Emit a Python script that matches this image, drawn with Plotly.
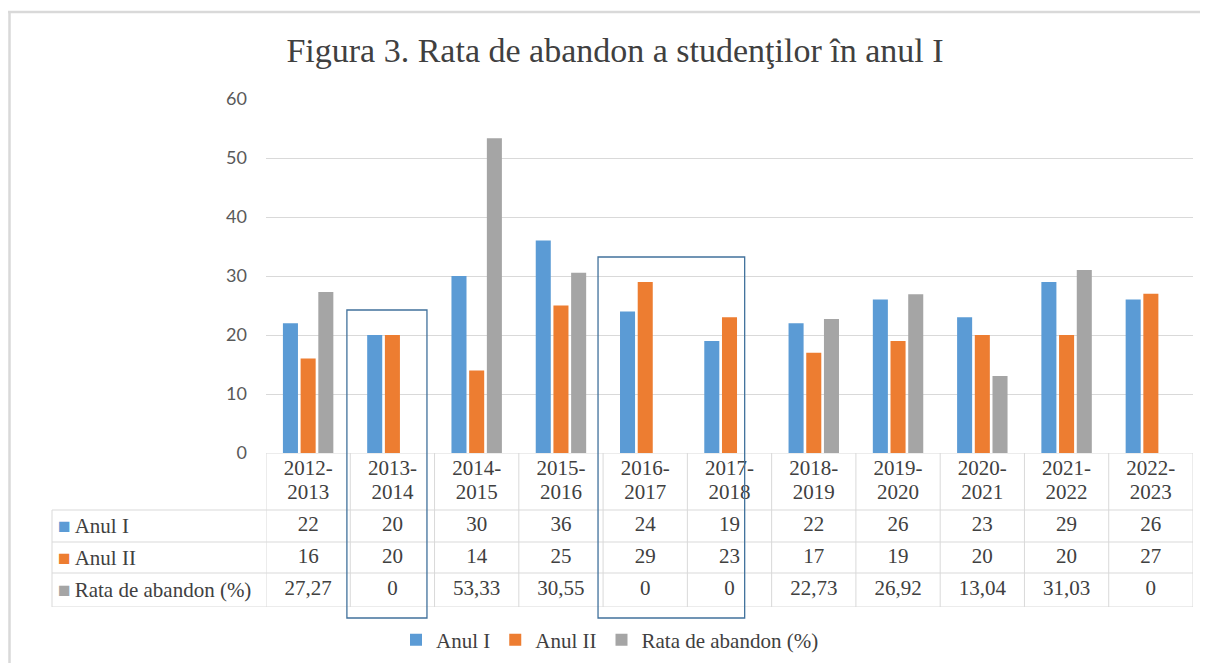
import plotly.graph_objects as go

# ---------------- data ----------------
categories = ["2012-2013", "2013-2014", "2014-2015", "2015-2016", "2016-2017", "2017-2018",
              "2018-2019", "2019-2020", "2020-2021", "2021-2022", "2022-2023"]
anul_1 = [22, 20, 30, 36, 24, 19, 22, 26, 23, 29, 26]
anul_2 = [16, 20, 14, 25, 29, 23, 17, 19, 20, 20, 27]
rata = [27.27, 0, 53.33, 30.55, 0, 0, 22.73, 26.92, 13.04, 31.03, 0]
series_names = ["Anul I", "Anul II", "Rata de abandon (%)"]
y_ticks = [0, 10, 20, 30, 40, 50, 60]

# ---------------- style ----------------
FONT = "Liberation Serif, Times New Roman, serif"
TICKFONT = "Lato, Carlito, Calibri, sans-serif"
TXT = "#404040"
GRID = "#D9D9D9"
COLORS = ["#5B9BD5", "#ED7D31", "#A5A5A5"]
BOX = "#41719C"

# the page body has an 8px margin; figure placed at (8,8)
OFF = 8
W, H = 1208 - OFF, 663 - OFF
# plot area in page pixels: left 266, right 1193, top 99, bottom 607
L, R, T, B = 266 - OFF, 1208 - 1193, 99 - OFF, 663 - 607
PW, PH = W - L - R, H - T - B
ROW_EDGES = [0, 34, 65, 97, 154]   # table row boundaries, px above table bottom
TABLE_H = ROW_EDGES[-1]
split = TABLE_H / PH


def pxp(px):
    """page x pixel -> paper x"""
    return (px - OFF - L) / PW


def py(px):
    """page y pixel -> paper y"""
    return (H - B - (px - OFF)) / PH


def fmt(v):
    if v == 0:
        return "0"
    if float(v).is_integer():
        return str(int(v))
    return f"{v:.2f}".replace(".", ",")


fig = go.Figure()
series = [anul_1, anul_2, rata]
for name, vals, col in zip(series_names, series, COLORS):
    fig.add_trace(go.Bar(x=categories, y=vals, name=name, marker_color=col,
                         marker_line_width=0, xaxis="x", yaxis="y"))

cell_font = dict(family=FONT, size=21, color=TXT)
row_centers = [(ROW_EDGES[i] + ROW_EDGES[i + 1]) / 2 for i in range(3)]
rows_data = [rata, anul_2, anul_1]
for i, vals in enumerate(rows_data):
    fig.add_trace(go.Scatter(x=categories, y=[row_centers[i]] * len(categories),
                             text=[fmt(v) for v in vals], mode="text",
                             textfont=cell_font, showlegend=False, hoverinfo="skip",
                             cliponaxis=False, xaxis="x", yaxis="y2"))
# header: two lines per category
top_parts = [c.split("-")[0] + "-" for c in categories]
bot_parts = [c.split("-")[1] for c in categories]
for parts, yy in ((top_parts, 607 - 470), (bot_parts, 607 - 494)):
    fig.add_trace(go.Scatter(x=categories, y=[yy] * len(categories), text=parts,
                             mode="text", textfont=cell_font, showlegend=False,
                             hoverinfo="skip", cliponaxis=False, xaxis="x", yaxis="y2"))

shapes = []
line = dict(color=GRID, width=1)
n = len(categories)
left_paper = pxp(52)
for e in ROW_EDGES:
    shapes.append(dict(type="line", xref="x", yref="y2", x0=-0.5, x1=n - 0.5,
                       y0=e, y1=e, line=line, layer="below"))
for e in ROW_EDGES[:4]:
    shapes.append(dict(type="line", xref="paper", yref="y2", x0=left_paper, x1=0,
                       y0=e, y1=e, line=line))
for k in range(n + 1):
    shapes.append(dict(type="line", xref="x", yref="y2", x0=k - 0.5, x1=k - 0.5,
                       y0=0, y1=TABLE_H, line=line))
shapes.append(dict(type="line", xref="paper", yref="y2", x0=left_paper, x1=left_paper,
                   y0=0, y1=ROW_EDGES[3], line=line))

# highlight boxes (hand drawn in the original)
shapes.append(dict(type="rect", xref="x", yref="paper", x0=0.46, x1=1.41,
                   y0=py(618), y1=py(310), line=dict(color=BOX, width=1.3)))
shapes.append(dict(type="rect", xref="x", yref="paper", x0=3.44, x1=5.18,
                   y0=py(618), y1=py(257), line=dict(color=BOX, width=1.3)))

# outer frame (top and left edges)
frame = dict(color="#D9D9D9", width=2.5)
shapes.append(dict(type="line", xref="paper", yref="paper", x0=pxp(OFF), x1=pxp(1208),
                   y0=py(12), y1=py(12), line=frame))
shapes.append(dict(type="line", xref="paper", yref="paper", x0=pxp(9.5), x1=pxp(9.5),
                   y0=py(12), y1=py(663), line=frame))

annotations = []
for i, (name, col) in enumerate(zip(series_names, COLORS)):
    yc = row_centers[2 - i]
    annotations.append(dict(
        xref="paper", yref="y2", x=pxp(56), y=yc, xanchor="left", yanchor="middle",
        showarrow=False,
        text=(f'<span style="color:{col};font-size:21px">■</span>'
              f'<span style="font-size:16px"> </span>{name}'),
        font=cell_font))

fig.update_layout(
    width=W, height=H,
    margin=dict(l=L, r=R, t=T, b=B, autoexpand=False),
    paper_bgcolor="white", plot_bgcolor="white",
    title=dict(text="Figura 3. Rata de abandon a studenţilor în anul I",
               font=dict(family=FONT, size=34, color=TXT),
               x=(615 - OFF) / W, xanchor="center", xref="container",
               y=1 - (50 - OFF) / H, yanchor="middle", yref="container"),
    barmode="group", bargap=0.37, bargroupgap=0.15,
    xaxis=dict(type="category", categoryorder="array", categoryarray=categories,
               range=[-0.5, n - 0.5], showticklabels=False, showgrid=False,
               zeroline=False, showline=False, ticks="", anchor="y"),
    yaxis=dict(domain=[split, 1], range=[0, 60], tickvals=y_ticks,
               gridcolor=GRID, gridwidth=1, zeroline=False, showline=False,
               ticks="", ticklabelstandoff=18,
               tickfont=dict(family=TICKFONT, size=18, color="#595959"), anchor="x"),
    yaxis2=dict(domain=[0, split], range=[0, TABLE_H], visible=False,
                showgrid=False, zeroline=False, anchor="x"),
    showlegend=True,
    legend=dict(orientation="h", x=pxp(396), xanchor="left",
                yref="container", y=1 - (640 - OFF) / H, yanchor="middle",
                font=cell_font, bgcolor="rgba(0,0,0,0)", traceorder="normal"),
    shapes=shapes, annotations=annotations,
)

fig.write_html("out.html")
